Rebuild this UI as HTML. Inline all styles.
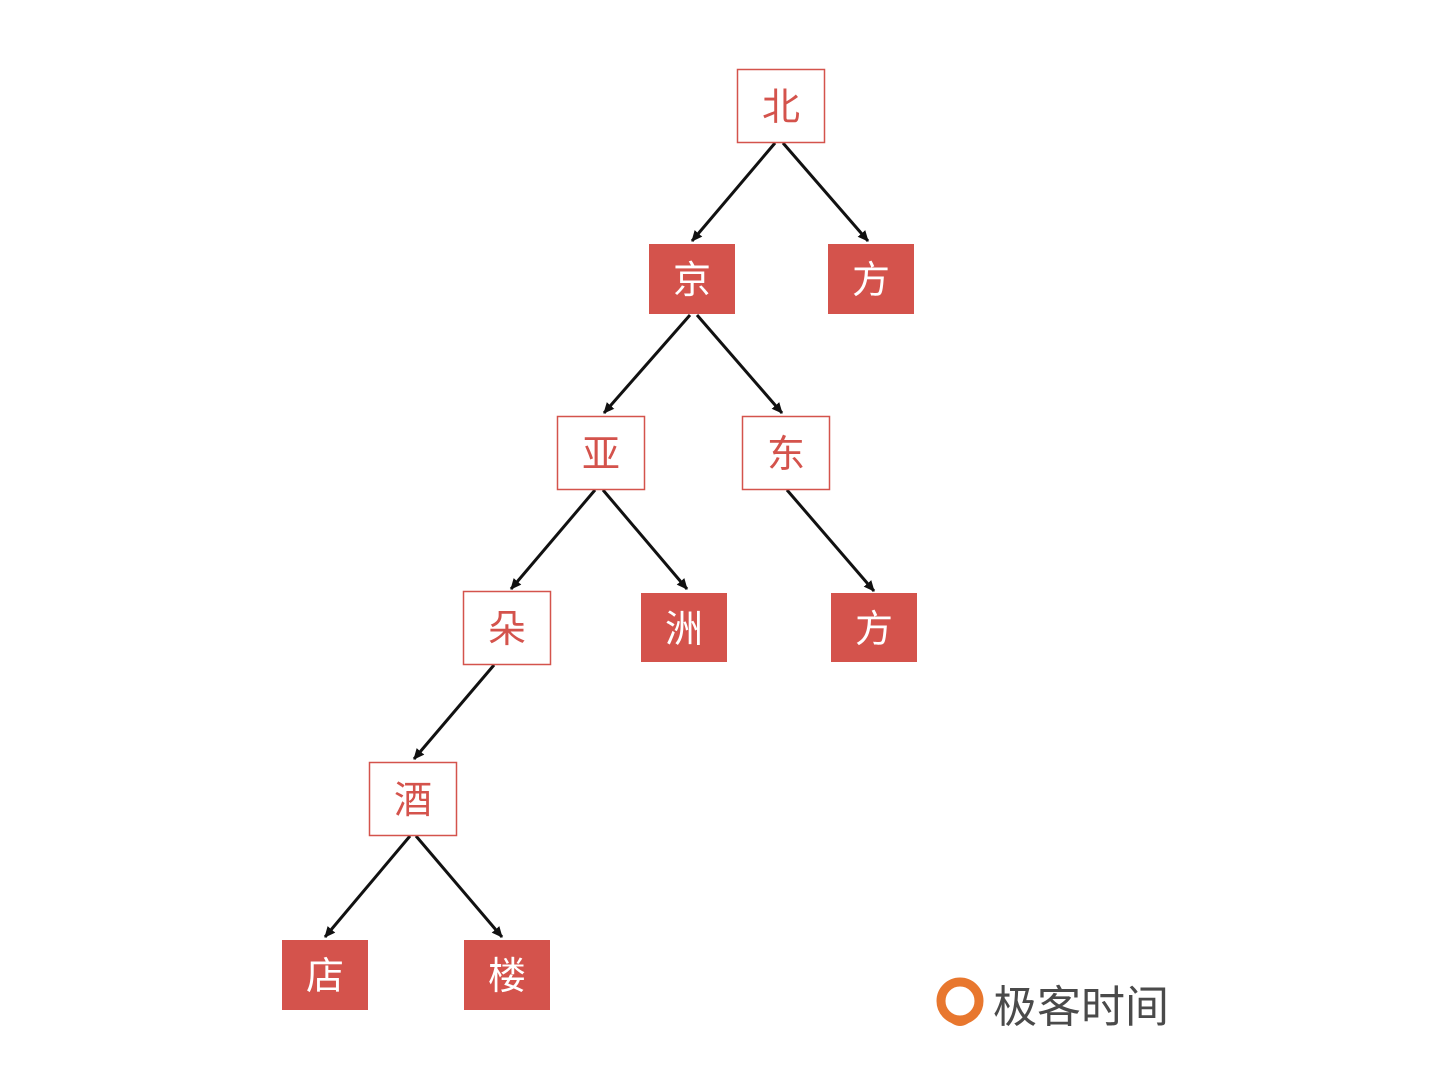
<!DOCTYPE html>
<html><head><meta charset="utf-8"><style>
html,body{margin:0;padding:0;background:#fff;}
svg{display:block;}
text{font-family:"Liberation Sans","Noto Sans CJK SC",sans-serif;}
</style></head><body>
<svg width="1456" height="1080" viewBox="0 0 1456 1080" xmlns="http://www.w3.org/2000/svg">
<defs>
<marker id="a" markerWidth="14" markerHeight="14" refX="10" refY="6" orient="auto" markerUnits="userSpaceOnUse">
<path d="M0,1 L11,6 L0,11 Z" fill="#111"/>
</marker>
</defs>
<g stroke="#111" stroke-width="3" marker-end="url(#a)">
<line x1="775" y1="143" x2="692" y2="241"/>
<line x1="783" y1="143" x2="868" y2="241"/>
<line x1="690" y1="315" x2="604" y2="413"/>
<line x1="697" y1="315" x2="782" y2="413"/>
<line x1="595" y1="490" x2="511" y2="589"/>
<line x1="603" y1="490" x2="687" y2="589"/>
<line x1="787" y1="490" x2="874" y2="591"/>
<line x1="494" y1="665" x2="414" y2="759"/>
<line x1="410" y1="836" x2="325" y2="937"/>
<line x1="416" y1="836" x2="502" y2="937"/>
</g>
<g stroke="#d4534c" stroke-width="1.5" fill="#fff">
<rect x="737.5" y="69.5" width="87" height="73"/>
<rect x="557.5" y="416.5" width="87" height="73"/>
<rect x="742.5" y="416.5" width="87" height="73"/>
<rect x="463.5" y="591.5" width="87" height="73"/>
<rect x="369.5" y="762.5" width="87" height="73"/>
</g>
<g fill="#d4534c">
<rect x="649" y="244" width="86" height="70"/>
<rect x="828" y="244" width="86" height="70"/>
<rect x="641" y="593" width="86" height="69"/>
<rect x="831" y="593" width="86" height="69"/>
<rect x="282" y="940" width="86" height="70"/>
<rect x="464" y="940" width="86" height="70"/>
</g>
<g font-size="38" text-anchor="middle" fill="#d4534c">
<text x="781" y="120">北</text>
<text x="601" y="467">亚</text>
<text x="786" y="467">东</text>
<text x="507" y="642">朵</text>
<text x="413" y="813">酒</text>
</g>
<g font-size="38" text-anchor="middle" fill="#fff">
<text x="692" y="293">京</text>
<text x="871" y="293">方</text>
<text x="684" y="642">洲</text>
<text x="874" y="642">方</text>
<text x="325" y="989">店</text>
<text x="507" y="989">楼</text>
</g>
<g>
<circle cx="960" cy="1001" r="19" fill="none" stroke="#e8772e" stroke-width="9"/>
<path d="M946,1018 Q960,1034 974,1018 Z" fill="#e8772e"/>
<text x="993" y="1022" font-size="44" fill="#4a4a4a">极客时间</text>
</g>
</svg>
</body></html>
